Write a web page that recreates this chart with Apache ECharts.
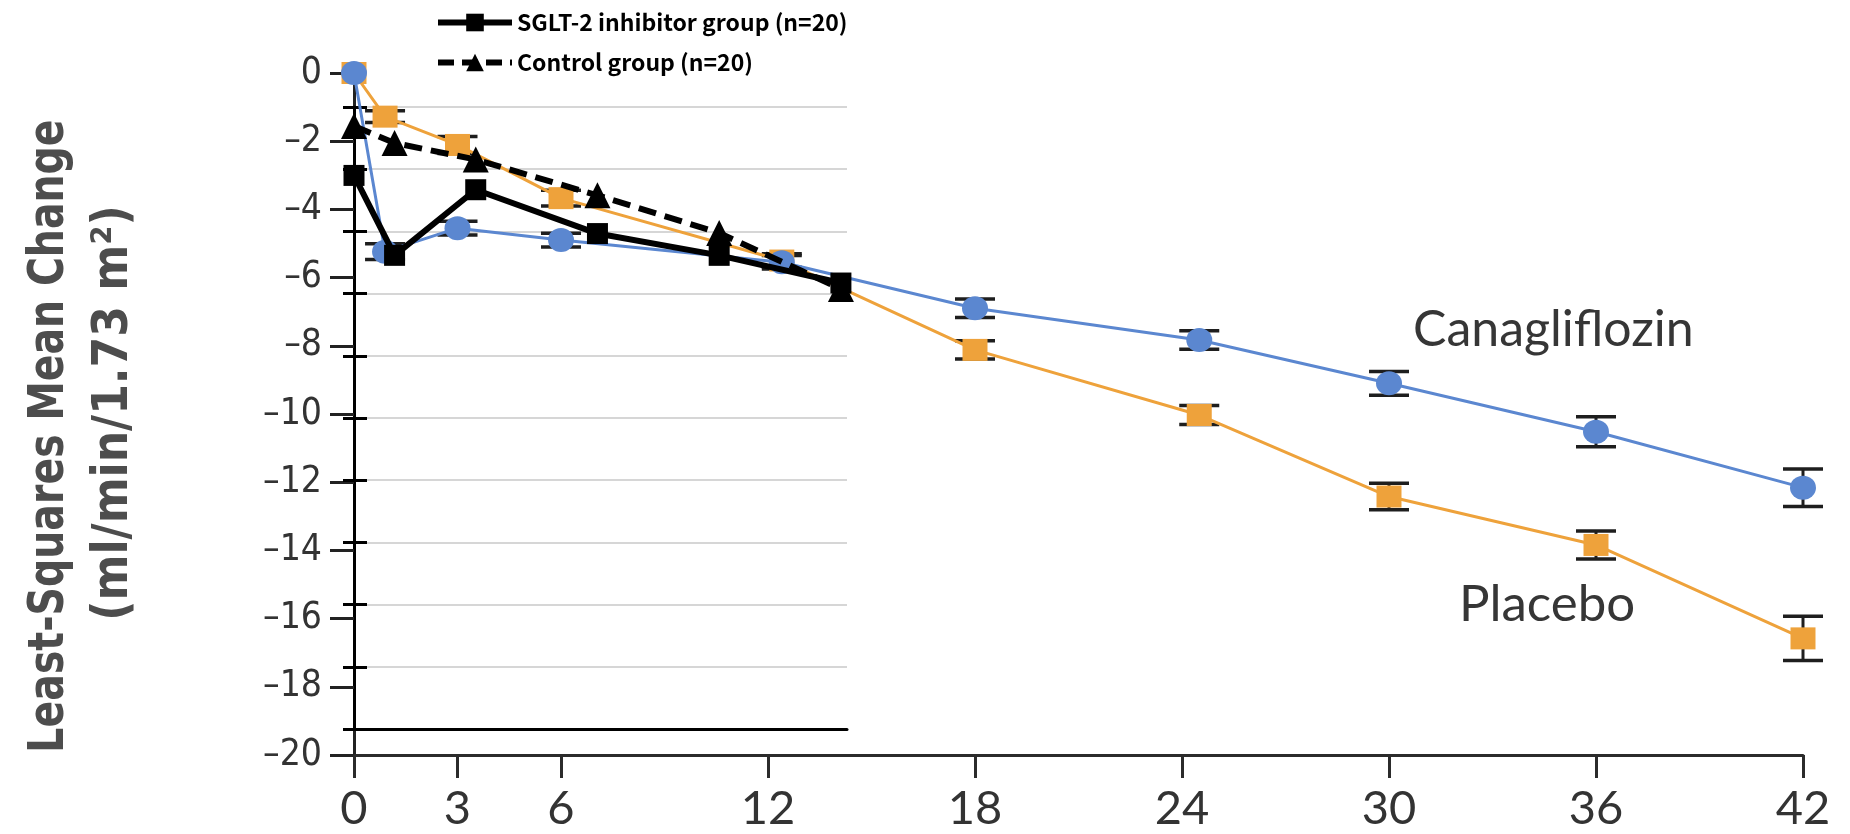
<!DOCTYPE html>
<html>
<head>
<meta charset="utf-8">
<script src="https://cdn.jsdelivr.net/npm/echarts@6/dist/echarts.min.js"></script>
<style>
  html, body { margin: 0; padding: 0; background: #fff; }
  #chart { width: 1850px; height: 834px; }
</style>
</head>
<body>
<div id="chart"></div>
<script>
// ---- Main panel: months since randomization ----
const monthTicks = [0, 3, 6, 12, 18, 24, 30, 36, 42];
const mainMonths = [0, 0.9, 3, 6, 12.4, 18, 24.5, 30, 36, 42];
const canaMean = [0, -5.24, -4.55, -4.90, -5.55, -6.90, -7.83, -9.10, -10.52, -12.16];
const canaErr  = [0, 0.23, 0.20, 0.20, 0.20, 0.27, 0.27, 0.35, 0.44, 0.55];
const placMean = [0, -1.28, -2.11, -3.67, -5.50, -8.12, -10.03, -12.42, -13.84, -16.58];
const placErr  = [0, 0.17, 0.25, 0.23, 0.20, 0.27, 0.28, 0.39, 0.41, 0.65];

// ---- Inset: 12-month comparison ----
const insetMonths = [0, 1, 3, 6, 9, 12];
const sglt2Vals   = [-2.20, -4.77, -2.66, -4.07, -4.77, -5.66];
const controlVals = [-0.61, -1.16, -1.69, -2.84, -4.05, -5.85];

const sgltName = 'SGLT-2 inhibitor group (n=20)';
const controlName = 'Control group (n=20)';

const BLUE = '#5B87D0';
const ORANGE = '#EEA23B';

const pairs = (xs, ys) => xs.map((x, i) => [x, ys[i]]);

function errorBars(months, mean, err) {
  const data = [];
  months.forEach((m, i) => { if (err[i] > 0) data.push([m, mean[i] - err[i], mean[i] + err[i]]); });
  return {
    type: 'custom',
    xAxisIndex: 0, yAxisIndex: 0,
    z: 1,
    silent: true,
    data,
    renderItem(params, api) {
      const x = api.value(0);
      const lo = api.coord([x, api.value(1)]);
      const hi = api.coord([x, api.value(2)]);
      const half = 20;
      const cap = { stroke: '#1e1e1e', lineWidth: 3.5 };
      return {
        type: 'group',
        children: [
          { type: 'line', shape: { x1: lo[0], y1: lo[1], x2: hi[0], y2: hi[1] }, style: { stroke: '#1e1e1e', lineWidth: 3 } },
          { type: 'line', shape: { x1: lo[0] - half, y1: lo[1], x2: lo[0] + half, y2: lo[1] }, style: cap },
          { type: 'line', shape: { x1: hi[0] - half, y1: hi[1], x2: hi[0] + half, y2: hi[1] }, style: cap }
        ]
      };
    }
  };
}

const chart = echarts.init(document.getElementById('chart'));

const option = {
  backgroundColor: '#fff',
  animation: false,
  grid: [
    { left: 354, right: 47, top: 73, bottom: 79 },
    { left: 354, right: 1003, top: 107, bottom: 105 }
  ],
  xAxis: [
    {
      gridIndex: 0, type: 'value', min: 0, max: 42, position: 'bottom',
      axisLine: { onZero: false, lineStyle: { color: '#2b2b2b', width: 3 } },
      axisTick: { customValues: monthTicks, length: 23, lineStyle: { color: '#2b2b2b', width: 3 } },
      axisLabel: {
        customValues: monthTicks, margin: 30,
        fontFamily: 'Lato', fontSize: 47, color: '#333'
      },
      splitLine: { show: false }
    },
    {
      gridIndex: 1, type: 'value', min: 0, max: 12.15, position: 'bottom',
      axisLine: { onZero: false, lineStyle: { color: '#000', width: 3 } },
      axisTick: { show: false }, axisLabel: { show: false },
      splitLine: { show: false }
    }
  ],
  yAxis: [
    {
      gridIndex: 0, type: 'value', min: -20, max: 0, interval: 2, position: 'left',
      axisLine: { show: true, onZero: false, lineStyle: { color: '#222', width: 3 } },
      axisTick: { show: true, length: 24, lineStyle: { color: '#222', width: 3 } },
      axisLabel: {
        margin: 32, fontFamily: '"DejaVu Sans Condensed", "Liberation Sans Narrow", sans-serif',
        fontSize: 37, color: '#333',
        formatter: v => String(v).replace('-', '\u2013')
      },
      splitLine: { show: false }
    },
    {
      gridIndex: 1, type: 'value', min: -20, max: 0, interval: 2, position: 'left',
      axisLine: { show: true, onZero: false, lineStyle: { color: '#000', width: 3 } },
      axisTick: { show: true, length: 11, lineStyle: { color: '#000', width: 3 } },
      axisLabel: { show: false },
      splitLine: { show: true, lineStyle: { color: '#d6d6d6', width: 2 } }
    },
    {
      gridIndex: 1, type: 'value', min: -20, max: 0, interval: 2, position: 'left',
      axisLine: { show: false, onZero: false },
      axisTick: { show: true, inside: true, length: 13, lineStyle: { color: '#000', width: 3 } },
      axisLabel: { show: false },
      splitLine: { show: false }
    }
  ],
  legend: {
    orient: 'vertical',
    left: 435, top: 11,
    padding: 0,
    itemWidth: 74, itemHeight: 22, itemGap: 17,
    selectedMode: false,
    data: [
      { name: sgltName, lineStyle: { width: 6 } },
      { name: controlName, lineStyle: { width: 6, type: [16, 8] } }
    ],
    textStyle: {
      fontFamily: 'Noto Sans CJK JP', fontWeight: 'bold', fontSize: 23, color: '#000', lineHeight: 22
    }
  },
  series: [
    errorBars(mainMonths, placMean, placErr),
    errorBars(mainMonths, canaMean, canaErr),
    {
      name: 'Placebo', type: 'line', xAxisIndex: 0, yAxisIndex: 0, z: 2,
      data: pairs(mainMonths, placMean),
      symbol: 'rect', symbolSize: [25, 22],
      itemStyle: { color: ORANGE },
      lineStyle: { color: ORANGE, width: 3 }
    },
    {
      name: 'Canagliflozin', type: 'line', xAxisIndex: 0, yAxisIndex: 0, z: 3,
      data: pairs(mainMonths, canaMean),
      symbol: 'circle', symbolSize: [26, 24],
      itemStyle: { color: BLUE },
      lineStyle: { color: BLUE, width: 3 }
    },
    {
      name: controlName, type: 'line', xAxisIndex: 1, yAxisIndex: 1, z: 5,
      data: pairs(insetMonths, controlVals),
      symbol: 'triangle', symbolSize: 26,
      itemStyle: { color: '#000' },
      lineStyle: { color: '#000', width: 6, type: [18, 9] }
    },
    {
      name: sgltName, type: 'line', xAxisIndex: 1, yAxisIndex: 1, z: 6,
      data: pairs(insetMonths, sglt2Vals),
      symbol: 'rect', symbolSize: 21,
      itemStyle: { color: '#000' },
      lineStyle: { color: '#000', width: 6 }
    }
  ],
  graphic: [
    {
      type: 'text', x: 50, y: 436, rotation: Math.PI / 2, scaleX: 0.877,
      style: {
        text: 'Least-Squares Mean Change',
        font: 'bold 50px "Liberation Sans Narrow", "DejaVu Sans Condensed", sans-serif',
        fill: '#4d4d4d', textAlign: 'center', textVerticalAlign: 'middle'
      }
    },
    {
      type: 'text', x: 114, y: 413, rotation: Math.PI / 2, scaleX: 0.98,
      style: {
        text: '(ml/min/1.73 m\u00B2)',
        font: 'bold 50px "Liberation Sans Narrow", "DejaVu Sans Condensed", sans-serif',
        fill: '#4d4d4d', textAlign: 'center', textVerticalAlign: 'middle'
      }
    },
    {
      type: 'text', x: 1413, y: 330,
      style: {
        text: 'Canagliflozin', font: '50px Lato, sans-serif', fill: '#363636',
        textAlign: 'left', textVerticalAlign: 'middle'
      }
    },
    {
      type: 'text', x: 1459, y: 605,
      style: {
        text: 'Placebo', font: '51px Lato, sans-serif', fill: '#363636',
        textAlign: 'left', textVerticalAlign: 'middle'
      }
    }
  ]
};

chart.setOption(option);
</script>
</body>
</html>
